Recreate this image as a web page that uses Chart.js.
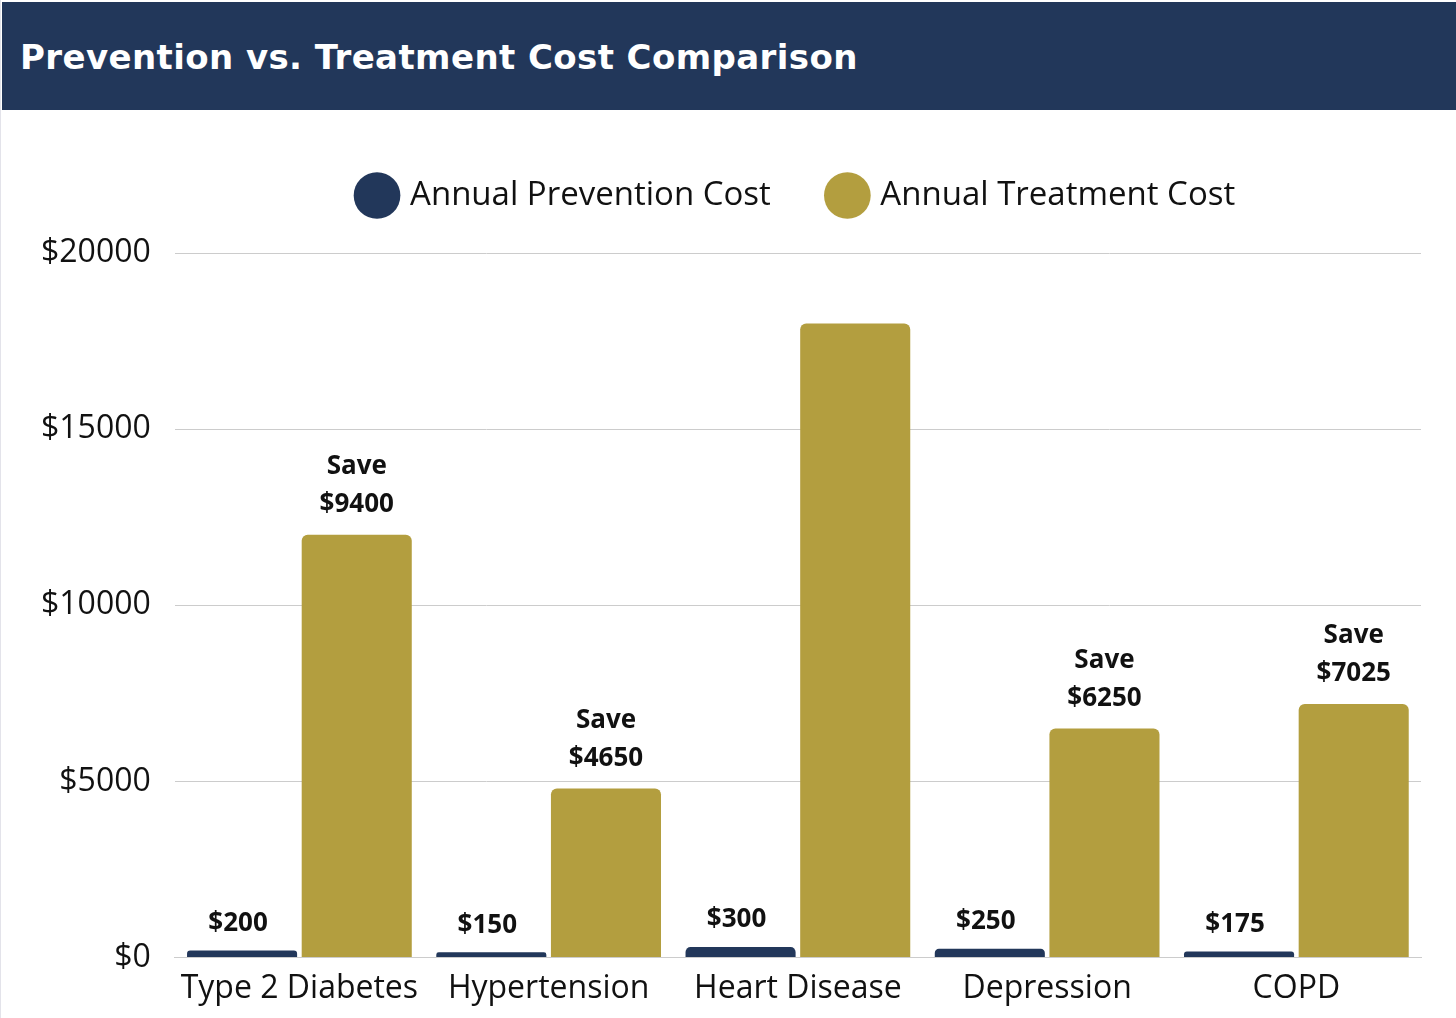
<!DOCTYPE html>
<html>
<head>
<meta charset="utf-8">
<script src="https://cdn.jsdelivr.net/npm/chart.js@4"></script>
<style>
  html, body { margin: 0; padding: 0; background: #fff; }
  body { width: 1456px; height: 1018px; position: relative; overflow: hidden; border-left: 1px solid #e3e3ea; box-sizing: border-box; }
  .header {
    position: absolute; left: 1px; top: 2px; width: 1455px; height: 108px;
    background: #22375a; color: #fff;
  }
  .header h1 {
    margin: 0; position: absolute; left: 18px; top: 35px;
    font: bold 34px "DejaVu Sans", sans-serif; letter-spacing: 0.4px;
  }
  .wrap { position: absolute; left: 0; top: 110px; width: 1456px; height: 908px; }
</style>
</head>
<body>
<div class="header"><h1>Prevention vs. Treatment Cost Comparison</h1></div>
<div class="wrap"><canvas id="chart"></canvas></div>
<script>
'use strict';

// conditions shown on the x axis
const CONDITIONS = ['Type 2 Diabetes', 'Hypertension', 'Heart Disease', 'Depression', 'COPD'];
// yearly cost in dollars
const PREVENTION = [200, 150, 300, 250, 175];
const TREATMENT = [12000, 4800, 18000, 6500, 7200];
// "Save" figures printed over the treatment bars (none on heart disease)
const SAVINGS = [9400, 4650, null, 6250, 7025];
const Y_TICKS = [0, 5000, 10000, 15000, 20000];

const NAVY = '#22375a';
const GOLD = '#b39e3f';

// draws the $ labels above each bar
const barLabels = {
  id: 'barLabels',
  afterDatasetsDraw(chart) {
    const ctx = chart.ctx;
    ctx.save();
    ctx.fillStyle = '#111';
    ctx.font = 'bold 26px "Open Sans"';
    ctx.textAlign = 'center';
    ctx.textBaseline = 'middle';
    chart.getDatasetMeta(0).data.forEach((bar, i) => {
      ctx.fillText('$' + PREVENTION[i], bar.x - 4, bar.y - 27);
    });
    chart.getDatasetMeta(1).data.forEach((bar, i) => {
      if (SAVINGS[i] == null) return;
      ctx.fillText('Save', bar.x, bar.y - 68);
      ctx.fillText('$' + SAVINGS[i], bar.x, bar.y - 30);
    });
    ctx.restore();
  }
};

// extra room under the legend
const legendGap = {
  id: 'legendGap',
  beforeInit(chart) {
    const fit = chart.legend.fit;
    chart.legend.fit = function () {
      fit.call(this);
      this.height += 31;
    };
  }
};

new Chart(document.getElementById('chart'), {
  type: 'bar',
  data: {
    labels: CONDITIONS,
    datasets: [
      { label: 'Annual Prevention Cost', data: PREVENTION, backgroundColor: NAVY, borderRadius: 6, borderSkipped: 'start' },
      { label: 'Annual Treatment Cost', data: TREATMENT, backgroundColor: GOLD, borderRadius: 6, borderSkipped: 'start' }
    ]
  },
  options: {
    responsive: true,
    maintainAspectRatio: false,
    animation: false,
    categoryPercentage: 0.92,
    barPercentage: 0.96,
    layout: { padding: { top: 9, right: 36, left: 16, bottom: 6 } },
    plugins: {
      legend: {
        position: 'top',
        fullSize: false,
        labels: {
          usePointStyle: true, pointStyle: 'circle', boxWidth: 33, boxHeight: 33,
          color: '#111', font: { family: 'Open Sans', size: 33 }, padding: 60
        }
      },
      tooltip: { enabled: false }
    },
    scales: {
      x: {
        grid: { display: false },
        border: { color: '#ccc' },
        ticks: { color: '#111', font: { family: 'Open Sans', size: 32 }, padding: 4, maxRotation: 0 }
      },
      y: {
        min: 0, max: 20000,
        afterBuildTicks: (axis) => { axis.ticks = Y_TICKS.map(v => ({ value: v })); },
        grid: { color: '#cccccc', drawTicks: false },
        border: { display: false },
        ticks: { color: '#111', font: { family: 'Open Sans', size: 32 }, padding: 24, callback: v => '$' + v }
      }
    }
  },
  plugins: [barLabels, legendGap]
});
</script>
</body>
</html>
